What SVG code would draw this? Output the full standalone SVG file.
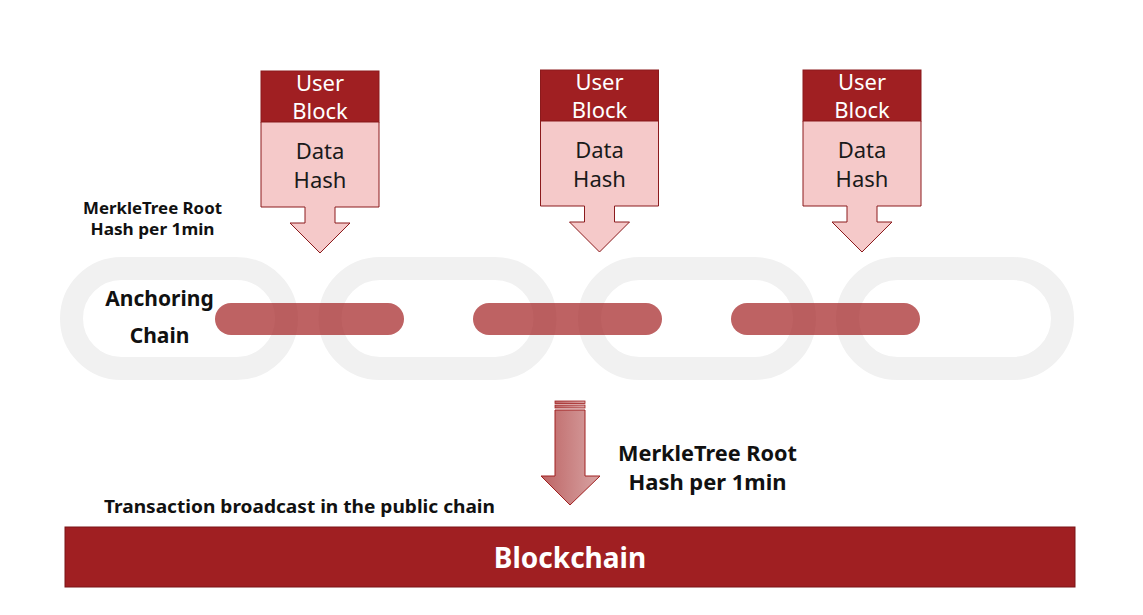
<svg xmlns="http://www.w3.org/2000/svg" width="1143" height="615" viewBox="0 0 1143 615">
<style>
.hdr{fill:#a01f22;stroke:#8b1a1c;stroke-width:1}
.body{fill:#f5c9c9;stroke:#8b1a1c;stroke-width:1}
.ring{fill:none;stroke:#f1f1f1;stroke-width:23}
.bar{fill:#a31f21;opacity:0.7}
.ht{font-family:"Noto Sans","Open Sans",sans-serif;font-size:22px;fill:#ffffff;text-anchor:middle}
.bt{font-family:"Noto Sans","Open Sans",sans-serif;font-size:22px;fill:#1a1a1a;text-anchor:middle}
.lbl{font-family:"Noto Sans","Open Sans",sans-serif;font-weight:bold;fill:#111111;text-anchor:middle}
</style>
<defs>
<linearGradient id="ag" x1="0" y1="0" x2="1" y2="0">
<stop offset="0" stop-color="#bd6464"/>
<stop offset="1" stop-color="#d8a4a4"/>
</linearGradient>
</defs>
<rect width="1143" height="615" fill="#ffffff"/>

<g id="chain">
<rect class="ring" x="71.5" y="268.5" width="215" height="100" rx="50"/>
<rect class="ring" x="330" y="268.5" width="215" height="100" rx="50"/>
<rect class="ring" x="589.5" y="268.5" width="215" height="100" rx="50"/>
<rect class="ring" x="847.5" y="268.5" width="215" height="100" rx="50"/>
<rect class="bar" x="215" y="303" width="189" height="32" rx="16"/>
<rect class="bar" x="473" y="303" width="189" height="32" rx="16"/>
<rect class="bar" x="731" y="303" width="189" height="32" rx="16"/>
</g>

<g id="block1">
<rect class="hdr" x="261" y="71" width="118" height="51"/>
<path class="body" d="M261,122 H379 V207 H335 V223 H350 L320,253 L290,223 H305 V207 H261 Z"/>
<text class="ht" x="320" y="91">User</text>
<text class="ht" x="320" y="119">Block</text>
<text class="bt" x="320" y="159">Data</text>
<text class="bt" x="320" y="188">Hash</text>
</g>

<g id="block2">
<rect class="hdr" x="540.5" y="70" width="118" height="51"/>
<path class="body" d="M540.5,121 H658.5 V206 H614.5 V222 H629.5 L599.5,252 L569.5,222 H584.5 V206 H540.5 Z"/>
<text class="ht" x="599.5" y="90">User</text>
<text class="ht" x="599.5" y="118">Block</text>
<text class="bt" x="599.5" y="158">Data</text>
<text class="bt" x="599.5" y="187">Hash</text>
</g>

<g id="block3">
<rect class="hdr" x="803" y="70" width="118" height="51"/>
<path class="body" d="M803,121 H921 V206 H877 V222 H892 L862,252 L832,222 H847 V206 H803 Z"/>
<text class="ht" x="862" y="90">User</text>
<text class="ht" x="862" y="118">Block</text>
<text class="bt" x="862" y="158">Data</text>
<text class="bt" x="862" y="187">Hash</text>
</g>

<g id="labels">
<text class="lbl" x="152.5" y="214" font-size="16" textLength="139" lengthAdjust="spacingAndGlyphs">MerkleTree Root</text>
<text class="lbl" x="152.5" y="235" font-size="16" textLength="124" lengthAdjust="spacingAndGlyphs">Hash per 1min</text>
<text class="lbl" x="159.5" y="306" font-size="21">Anchoring</text>
<text class="lbl" x="159.5" y="343" font-size="21">Chain</text>
<text class="lbl" x="707.5" y="461" font-size="21" textLength="179" lengthAdjust="spacingAndGlyphs">MerkleTree Root</text>
<text class="lbl" x="707.5" y="490" font-size="21" textLength="158" lengthAdjust="spacingAndGlyphs">Hash per 1min</text>
<text class="lbl" x="299.5" y="513" font-size="18.5" textLength="391" lengthAdjust="spacingAndGlyphs">Transaction broadcast in the public chain</text>
</g>

<g id="connectors">
<rect x="555" y="401" width="30" height="2.5" fill="url(#ag)" stroke="#a02020" stroke-width="0.8"/>
<rect x="555" y="405" width="30" height="3" fill="url(#ag)" stroke="#a02020" stroke-width="0.8"/>
<path d="M555,410 H585 V476 H600 L570,505 L541,476 H555 Z" fill="url(#ag)" stroke="#a02020" stroke-width="1"/>
</g>

<g id="blockchain">
<rect x="65" y="527" width="1010" height="60" fill="#a01f22" stroke="#7a1416" stroke-width="1"/>
<text x="570" y="568" font-family="'Noto Sans','Open Sans',sans-serif" font-weight="bold" font-size="28" fill="#ffffff" text-anchor="middle">Blockchain</text>
</g>
</svg>
